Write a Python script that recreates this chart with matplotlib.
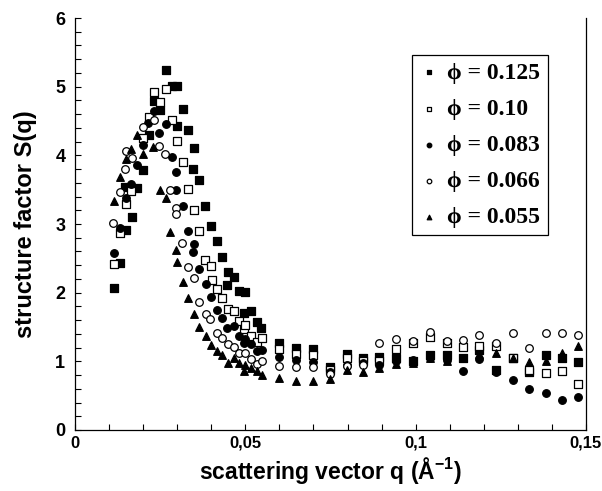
import matplotlib
matplotlib.use("Agg")
import matplotlib.pyplot as plt
from matplotlib.ticker import MultipleLocator

# ---------------- data ----------------
# phi = 0.125 (filled squares)
q_125 = [0.01145, 0.01321, 0.01468, 0.01497, 0.01673, 0.01820, 0.01996, 0.02172, 0.02319, 0.02495,
         0.02671, 0.02847, 0.02994, 0.02994, 0.03170, 0.03317, 0.03464, 0.03493, 0.03640, 0.03816,
         0.03992, 0.04168, 0.04315, 0.04462, 0.04491, 0.04667, 0.04814, 0.04961, 0.04990, 0.05166,
         0.05342, 0.05460,
         0.0599, 0.0649, 0.0699, 0.0749, 0.0798, 0.0845, 0.0892, 0.0942, 0.0992, 0.1042,
         0.1092, 0.1139, 0.1186, 0.1236, 0.1286, 0.1333, 0.1383, 0.1430, 0.1477]
s_125 = [2.07, 2.43, 3.54, 2.91, 3.10, 3.52, 3.79, 4.30, 4.79, 4.66,
         5.24, 5.01, 5.01, 4.43, 4.68, 4.37, 3.80, 4.11, 3.64, 3.26,
         2.97, 2.75, 2.52, 2.11, 2.30, 2.23, 2.02, 1.70, 2.01, 1.73,
         1.57, 1.49,
         1.27, 1.19, 1.18, 0.92, 1.10, 1.05, 1.07, 1.05, 1.00, 1.09,
         1.09, 1.05, 1.16, 0.87, 1.05, 0.84, 1.09, 1.05, 0.99]

# phi = 0.10 (open squares)
q_10 = [0.01145, 0.01321, 0.01497, 0.01644, 0.01996, 0.02172, 0.02319, 0.02495, 0.02671, 0.02847,
        0.02994, 0.03170, 0.03317, 0.03493, 0.03640, 0.03816, 0.03992, 0.04021, 0.04168, 0.04315,
        0.04491, 0.04667, 0.04814, 0.04961, 0.04990, 0.05166, 0.05342, 0.05489,
        0.0599, 0.0649, 0.0699, 0.0749, 0.0798, 0.0845, 0.0892, 0.0942, 0.0992, 0.1042,
        0.1092, 0.1139, 0.1186, 0.1236, 0.1286, 0.1333, 0.1383, 0.1430, 0.1477]
s_10 = [2.42, 2.87, 3.29, 3.48, 4.25, 4.56, 4.92, 4.78, 4.97, 4.51,
        4.21, 3.90, 3.51, 3.20, 2.90, 2.48, 2.39, 2.18, 2.05, 1.92,
        1.76, 1.73, 1.59, 1.47, 1.53, 1.37, 1.28, 1.34,
        1.18, 1.10, 1.09, 0.88, 1.05, 1.00, 1.00, 1.18, 1.27, 1.36,
        1.27, 1.21, 1.22, 1.22, 1.05, 0.88, 0.83, 0.86, 0.67]

# phi = 0.083 (filled circles)
q_083 = [0.01145, 0.01321, 0.01497, 0.01644, 0.01820, 0.01996, 0.02143, 0.02319, 0.02466, 0.02671,
         0.02847, 0.02965, 0.02965, 0.03170, 0.03317, 0.03464, 0.03493, 0.03640, 0.03845, 0.03992,
         0.04168, 0.04315, 0.04462, 0.04667, 0.04814, 0.04961, 0.04990, 0.05166, 0.05342, 0.05489,
         0.0599, 0.0649, 0.0699, 0.0749, 0.0798, 0.0845, 0.0892, 0.0942, 0.0992, 0.1042,
         0.1092, 0.1139, 0.1186, 0.1236, 0.1286, 0.1333, 0.1383, 0.1430, 0.1477]
s_083 = [2.58, 2.94, 3.38, 3.58, 3.86, 4.15, 4.47, 4.65, 4.33, 4.46,
         3.98, 3.76, 3.50, 3.26, 2.90, 2.59, 2.71, 2.35, 2.13, 1.94,
         1.75, 1.63, 1.49, 1.51, 1.37, 1.27, 1.33, 1.25, 1.15, 1.17,
         1.06, 1.02, 0.99, 0.85, 0.95, 0.97, 0.95, 1.00, 1.02, 1.05,
         1.02, 0.86, 1.03, 0.85, 0.73, 0.60, 0.54, 0.43, 0.48]

# phi = 0.066 (open circles)
q_066 = [0.01115, 0.01321, 0.01468, 0.01497, 0.01673, 0.01996, 0.02319, 0.02466, 0.02642, 0.02789,
         0.02965, 0.02965, 0.03141, 0.03317, 0.03493, 0.03640, 0.03845, 0.03963, 0.04168, 0.04315,
         0.04491, 0.04667, 0.04814, 0.04990, 0.05166, 0.05342, 0.05489,
         0.0599, 0.0649, 0.0699, 0.0749, 0.0798, 0.0845, 0.0892, 0.0942, 0.0992, 0.1042,
         0.1092, 0.1139, 0.1186, 0.1236, 0.1286, 0.1333, 0.1383, 0.1430, 0.1477]
s_066 = [3.01, 3.47, 3.80, 4.06, 3.96, 4.41, 4.51, 4.14, 4.02, 3.50,
         3.23, 3.15, 2.72, 2.37, 2.21, 1.86, 1.69, 1.62, 1.41, 1.34,
         1.25, 1.21, 1.12, 1.12, 1.03, 0.96, 1.01,
         0.93, 0.92, 0.92, 0.82, 0.93, 0.95, 1.27, 1.32, 1.29, 1.43,
         1.30, 1.31, 1.38, 1.27, 1.41, 1.19, 1.41, 1.41, 1.38]

# phi = 0.055 (filled triangles)
q_055 = [0.01145, 0.01321, 0.01497, 0.01644, 0.01820, 0.01996, 0.02290, 0.02495, 0.02671, 0.02789,
         0.02965, 0.02994, 0.03170, 0.03317, 0.03493, 0.03640, 0.03845, 0.03992, 0.04168, 0.04315,
         0.04491, 0.04667, 0.04814, 0.04961, 0.04990, 0.05166, 0.05342, 0.05489,
         0.0599, 0.0649, 0.0699, 0.0749, 0.0798, 0.0845, 0.0892, 0.0942, 0.0992, 0.1042,
         0.1092, 0.1139, 0.1186, 0.1236, 0.1286, 0.1333, 0.1383, 0.1430, 0.1477]
s_055 = [3.34, 3.68, 3.95, 4.09, 4.30, 4.02, 4.12, 3.50, 3.38, 2.88,
         2.62, 2.45, 2.16, 1.92, 1.69, 1.50, 1.37, 1.24, 1.15, 1.09,
         0.98, 1.05, 0.98, 0.86, 0.95, 0.90, 0.86, 0.80,
         0.76, 0.71, 0.71, 0.75, 0.87, 0.85, 0.90, 0.96, 0.97, 1.05,
         1.00, 1.05, 1.10, 1.12, 1.05, 0.99, 1.00, 1.12, 1.22]

labels = ["ϕ = 0.125", "ϕ = 0.10", "ϕ = 0.083", "ϕ = 0.066", "ϕ = 0.055"]
x_tick_vals = [0, 0.05, 0.1, 0.15]
x_tick_labels = ["0", "0,05", "0,1", "0,15"]
y_tick_vals = [0, 1, 2, 3, 4, 5, 6]
y_tick_labels = ["0", "1", "2", "3", "4", "5", "6"]

# ---------------- plot ----------------
plt.rcParams['font.family'] = ['Liberation Sans', 'DejaVu Sans']
plt.rcParams['mathtext.fontset'] = 'custom'
plt.rcParams['mathtext.rm'] = 'Liberation Sans:bold'
plt.rcParams['mathtext.bf'] = 'Liberation Sans:bold'
plt.rcParams['mathtext.default'] = 'bf'

fig = plt.figure(figsize=(6.02, 4.91), dpi=100)
ax = fig.add_axes([75/602, 1-430/491, (586-75)/602, (430-18)/491])

ms = 30
series = [
    (q_125, s_125, 's', 'black'),
    (q_10, s_10, 's', 'white'),
    (q_083, s_083, 'o', 'black'),
    (q_066, s_066, 'o', 'white'),
    (q_055, s_055, '^', 'black'),
]
handles = []
for (q, s, m, fc), lab in zip(series, labels):
    h = ax.scatter(q, s, s=ms, marker=m, facecolor=fc, edgecolor='black',
                   linewidths=0.9, label=lab, zorder=3)
    handles.append(h)

ax.set_xlim(0, 0.15)
ax.set_ylim(0, 6)
ax.set_xticks(x_tick_vals)
ax.set_xticklabels(x_tick_labels)
ax.set_yticks(y_tick_vals)
ax.set_yticklabels(y_tick_labels)
ax.xaxis.set_minor_locator(MultipleLocator(0.01))
ax.yaxis.set_minor_locator(MultipleLocator(0.2))
ax.tick_params(which='both', direction='in', length=4, width=0.8, top=False, right=False)
ax.tick_params(axis='x', which='major', labelsize=12, pad=4)
ax.tick_params(axis='y', which='major', labelsize=13, pad=7)
for lab in ax.get_xticklabels() + ax.get_yticklabels():
    lab.set_fontweight('bold')

ax.spines['top'].set_visible(False)
for sp in ['left', 'bottom', 'right']:
    ax.spines[sp].set_linewidth(0.9)

ax.set_xlabel('scattering vector q (Å$^{-1}$)', fontsize=16.5, fontweight='bold', labelpad=3)
ax.set_ylabel('structure factor S(q)', fontsize=17, fontweight='bold', labelpad=13)

leg = ax.legend(handles=handles, loc='upper left',
                bbox_to_anchor=((412-75)/511, (430-55)/412),
                prop={'family': ['Liberation Serif', 'DejaVu Serif'], 'weight': 'bold', 'size': 17},
                frameon=True, fancybox=False, shadow=False, framealpha=1,
                edgecolor='black', markerscale=0.6, handlelength=0.8,
                handletextpad=0.4, labelspacing=0.62, borderpad=0.3, borderaxespad=0)
leg.get_frame().set_linewidth(0.9)

fig.savefig('out.png', dpi=100)
